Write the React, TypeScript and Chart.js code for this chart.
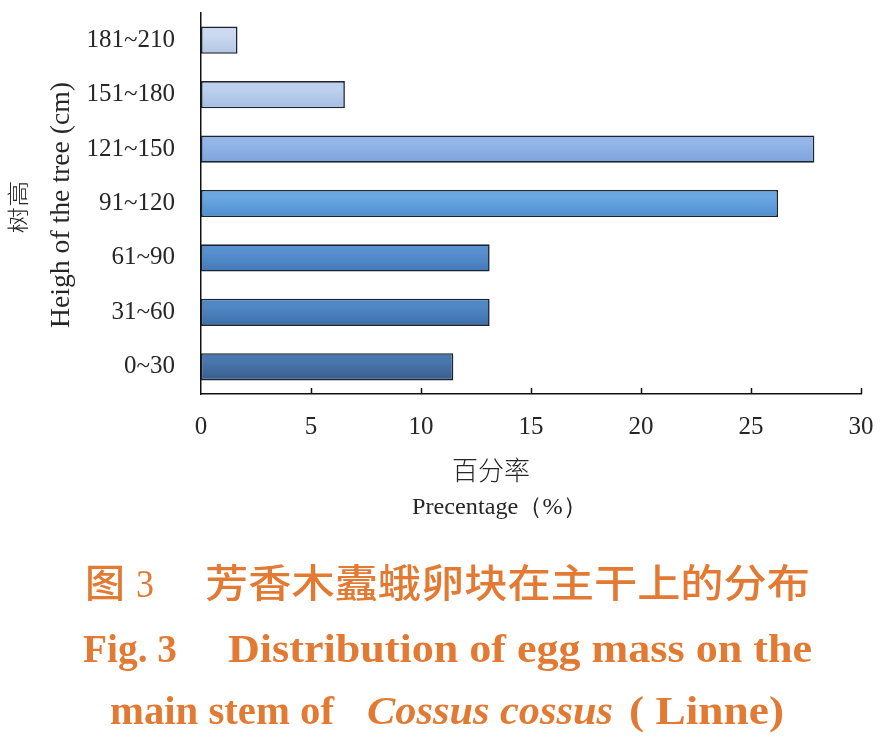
import { useEffect, useRef } from "react";
import { Chart, registerables } from "chart.js";

Chart.register(...registerables);

// Tree-height classes (cm), listed from the ground upward
const heightClasses = ["0~30", "31~60", "61~90", "91~120", "121~150", "151~180", "181~210"];
// Share of egg masses found in each height class (%)
const eggMassShare = [11.47, 13.12, 13.12, 26.23, 27.88, 6.54, 1.66];
// Percentage axis ticks
const percentTicks = [0, 5, 10, 15, 20, 25, 30];
// Bar shading: lighter upper tone and deeper lower tone per class
const barTopColors = ["#4a77ad", "#5087c5", "#5890cf", "#6aa6e0", "#93b5e8", "#bdd0ee", "#ccd9f0"];
const barBottomColors = ["#385c8c", "#3d6fa9", "#4279b9", "#4d8fd2", "#7ea3dc", "#a5bde4", "#b3c6e5"];

const SERIF = "'Liberation Serif', 'Times New Roman', serif";
const CJK = "'Noto Sans CJK SC', sans-serif";
const CAPTION_COLOR = "#e27a33";
const TEXT_COLOR = "#262626";

// Draw a string squeezed/stretched horizontally so it spans `width` pixels.
function fitText(
  ctx: CanvasRenderingContext2D,
  text: string,
  left: number,
  baseline: number,
  width: number,
  font: string,
  color: string
) {
  ctx.save();
  ctx.font = font;
  ctx.fillStyle = color;
  ctx.textAlign = "left";
  ctx.textBaseline = "alphabetic";
  const w = ctx.measureText(text).width;
  ctx.translate(left, baseline);
  ctx.scale(width / w, 1);
  ctx.fillText(text, 0, 0);
  ctx.restore();
}

// Vertical (rotated -90°) text centred at cy, running bottom-to-top over `length` px.
function rotatedText(
  ctx: CanvasRenderingContext2D,
  text: string,
  baselineX: number,
  cy: number,
  length: number,
  font: string,
  color: string,
  squeeze = 1
) {
  ctx.save();
  ctx.font = font;
  ctx.fillStyle = color;
  ctx.textAlign = "center";
  ctx.textBaseline = "alphabetic";
  const w = ctx.measureText(text).width;
  ctx.translate(baselineX, cy);
  ctx.rotate(-Math.PI / 2);
  ctx.scale(length / w, squeeze);
  ctx.fillText(text, 0, 0);
  ctx.restore();
}

const inwardTicks = {
  id: "inwardTicks",
  afterDatasetsDraw(chart: Chart) {
    const { ctx, scales } = chart;
    const x = scales.x;
    const bottom = chart.chartArea.bottom;
    ctx.save();
    ctx.strokeStyle = "#111";
    ctx.lineWidth = 1.5;
    percentTicks.forEach((v) => {
      if (v === 0) return;
      const px = Math.round(x.getPixelForValue(v)) + 0.5;
      ctx.beginPath();
      ctx.moveTo(px, bottom);
      ctx.lineTo(px, bottom - 6);
      ctx.stroke();
    });
    ctx.restore();
  },
};

const titlesAndCaption = {
  id: "titlesAndCaption",
  afterDraw(chart: Chart) {
    const ctx = chart.ctx;
    // Y-axis title
    rotatedText(ctx, "树高", 26, 207, 53, `300 26px ${CJK}`, TEXT_COLOR, 0.85);
    rotatedText(ctx, "Heigh of the tree (cm)", 69, 205, 246, `27px ${SERIF}`, TEXT_COLOR);
    // X-axis title
    fitText(ctx, "百分率", 452, 480, 78, `300 26px ${CJK}`, TEXT_COLOR);
    fitText(ctx, "Precentage（%）", 412, 514, 175, `24px ${SERIF}`, TEXT_COLOR);
    // Figure caption
    fitText(ctx, "图", 85, 597, 40, `500 39px ${CJK}`, CAPTION_COLOR);
    fitText(ctx, "3", 136, 597, 18, `39px ${SERIF}`, CAPTION_COLOR);
    fitText(ctx, "芳香木蠹蛾卵块在主干上的分布", 205, 597, 605, `500 39px ${CJK}`, CAPTION_COLOR);
    fitText(ctx, "Fig. 3", 83, 662, 94, `bold 40px ${SERIF}`, CAPTION_COLOR);
    fitText(ctx, "Distribution of egg mass on the", 228, 662, 584, `bold 40px ${SERIF}`, CAPTION_COLOR);
    fitText(ctx, "main stem of", 110, 724, 224, `bold 40px ${SERIF}`, CAPTION_COLOR);
    fitText(ctx, "Cossus cossus", 367, 724, 246, `italic bold 40px ${SERIF}`, CAPTION_COLOR);
    fitText(ctx, "( Linne)", 629, 724, 155, `bold 40px ${SERIF}`, CAPTION_COLOR);
  },
};

export default function App() {
  const canvasRef = useRef<HTMLCanvasElement>(null);

  useEffect(() => {
    const canvas = canvasRef.current;
    if (!canvas) return;

    const chart = new Chart(canvas, {
      type: "bar",
      data: {
        labels: heightClasses,
        datasets: [
          {
            data: eggMassShare,
            backgroundColor: (c: any) => {
              const i = c.dataIndex ?? 0;
              const yScale = c.chart.scales?.y;
              if (!yScale || c.type !== "data") return barTopColors[i];
              const center = yScale.getPixelForValue(i);
              const half = yScale.height / heightClasses.length / 4;
              if (!Number.isFinite(center) || !Number.isFinite(half) || half <= 0) {
                return barTopColors[i];
              }
              const g = c.chart.ctx.createLinearGradient(0, center - half, 0, center + half);
              g.addColorStop(0, barTopColors[i]);
              g.addColorStop(0.3, barTopColors[i]);
              g.addColorStop(1, barBottomColors[i]);
              return g;
            },
            borderColor: "#1b2433",
            borderWidth: 1.6,
            borderSkipped: false,
            barPercentage: 0.5,
            categoryPercentage: 1,
          },
        ],
      },
      options: {
        indexAxis: "y",
        responsive: false,
        maintainAspectRatio: false,
        devicePixelRatio: 1,
        animation: false,
        layout: { padding: { top: 13, right: 28, left: 0, bottom: 0 } },
        plugins: {
          legend: { display: false },
          tooltip: { enabled: false },
        },
        scales: {
          x: {
            type: "linear",
            min: 0,
            max: 30,
            afterFit: (scale: any) => {
              scale.height = 749 - 394;
              scale.paddingLeft = 0;
              scale.paddingRight = 0;
            },
            afterBuildTicks: (scale: any) => {
              scale.ticks = percentTicks.map((v) => ({ value: v }));
            },
            ticks: {
              color: TEXT_COLOR,
              font: { family: SERIF, size: 25 },
              padding: 18,
              maxRotation: 0,
            },
            grid: { display: false, drawTicks: false },
            border: { display: true, color: "#111", width: 1.5 },
          },
          y: {
            type: "category",
            reverse: true,
            afterFit: (scale: any) => {
              scale.width = 201;
              scale.paddingTop = 0;
              scale.paddingBottom = 0;
            },
            ticks: {
              color: TEXT_COLOR,
              font: { family: SERIF, size: 25 },
              padding: 26,
            },
            grid: { display: false, drawTicks: false },
            border: { display: true, color: "#111", width: 1.5 },
          },
        },
      },
      plugins: [inwardTicks, titlesAndCaption],
    });

    return () => chart.destroy();
  }, []);

  return (
    <div
      style={{
        position: "absolute",
        left: 0,
        top: 0,
        width: 889,
        height: 749,
        background: "#ffffff",
      }}
    >
      <canvas
        ref={canvasRef}
        width={889}
        height={749}
        style={{ display: "block", width: 889, height: 749 }}
      />
    </div>
  );
}
